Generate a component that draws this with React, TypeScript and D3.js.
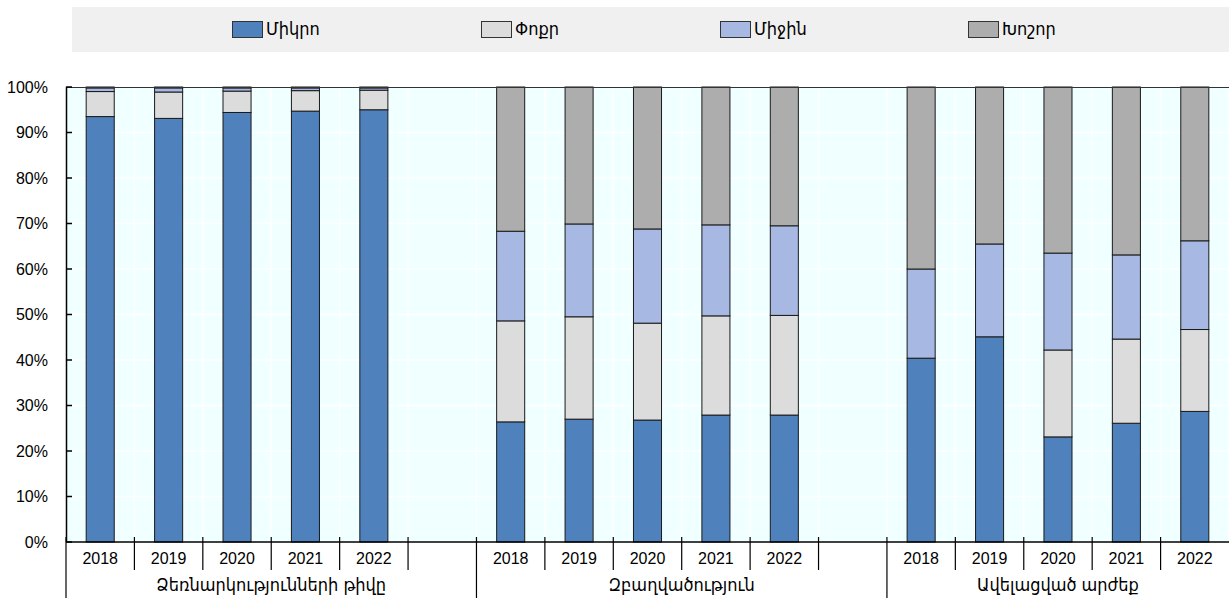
import * as d3 from "d3";

const groups = ["Ձեռնարկությունների թիվը", "Զբաղվածություն", "Ավելացված արժեք"];
const years = ["2018", "2019", "2020", "2021", "2022"];
const seriesNames = ["Միկրո", "Փոքր", "Միջին", "Խոշոր"];
const colors = ["#4F81BD", "#DCDCDC", "#A7B9E3", "#ADADAD"];

// 15 bars: 3 groups x 5 years
const mikro = [93.5, 93.1, 94.4, 94.7, 95.0, 26.4, 27.0, 26.8, 27.9, 27.9, 40.4, 45.1, 23.1, 26.1, 28.7];
const poqr = [5.5, 5.8, 4.7, 4.5, 4.3, 22.2, 22.5, 21.3, 21.8, 21.9, 0, 0, 19.1, 18.5, 18.0];
const mijin = [0.8, 0.9, 0.7, 0.6, 0.5, 19.7, 20.4, 20.7, 20.0, 19.7, 19.6, 20.4, 21.3, 18.5, 19.5];
const khoshor = [0.2, 0.2, 0.2, 0.2, 0.2, 31.7, 30.1, 31.2, 30.3, 30.5, 40.0, 34.5, 36.5, 36.9, 33.8];

const yTicks = [0, 10, 20, 30, 40, 50, 60, 70, 80, 90, 100];

const W = 1229;
const H = 598;
const FONT = "'Liberation Sans', Arial, 'DejaVu Sans Condensed', sans-serif";

export default function App() {
  const margin = { top: 87, right: 0, bottom: 56, left: 66 };
  const plotBottom = H - margin.bottom;

  // slots: each group's years followed by an empty gap slot (not after the last)
  const slots: { key: string; group: number; year?: string; idx?: number }[] = [];
  groups.forEach((g, gi) => {
    years.forEach((y, yi) => slots.push({ key: `${gi}-${y}`, group: gi, year: y, idx: gi * years.length + yi }));
    if (gi < groups.length - 1) slots.push({ key: `${gi}-gap`, group: gi });
  });

  const x = d3
    .scaleBand<string>()
    .domain(slots.map(s => s.key))
    .range([margin.left, W - margin.right])
    .padding(0);

  const y = d3.scaleLinear().domain([0, 100]).range([plotBottom, margin.top]);

  const rows = mikro.map((_, i) => ({
    i,
    [seriesNames[0]]: mikro[i],
    [seriesNames[1]]: poqr[i],
    [seriesNames[2]]: mijin[i],
    [seriesNames[3]]: khoshor[i]
  }));
  const stacked = d3.stack<any>().keys(seriesNames)(rows);

  const bw = x.bandwidth();
  const barW = bw * 0.41;

  // group boundaries (long ticks)
  const groupStart = groups.map((_, gi) => x(slots.find(s => s.group === gi)!.key)!);
  const groupEnd = groups.map((_, gi) => (gi < groups.length - 1 ? groupStart[gi + 1] : W - margin.right));

  const legendX = [232, 481, 720, 968];

  return (
    <svg
      width={W}
      height={H}
      style={{ position: "absolute", left: 0, top: 0, fontFamily: FONT }}
    >
      {/* legend */}
      <rect x={72} y={7} width={W - 72} height={45} fill="#F0F0F0" />
      {seriesNames.map((s, i) => (
        <g key={s} transform={`translate(${legendX[i]},21)`}>
          <rect x={0.5} y={0.5} width={30} height={16} fill={colors[i]} stroke="#333" strokeWidth={1} />
          <text x={34} y={14} fontSize={18} fill="#000">
            {s}
          </text>
        </g>
      ))}

      {/* plot background */}
      <rect x={margin.left} y={margin.top} width={W - margin.left} height={plotBottom - margin.top} fill="#F0FFFF" />

      {/* grid */}
      {yTicks.map(t => (
        <line key={t} x1={margin.left} x2={W} y1={y(t)} y2={y(t)} stroke="#fff" strokeWidth={1.5} />
      ))}
      {slots.map(s => (
        <line key={s.key} x1={x(s.key)! + bw} x2={x(s.key)! + bw} y1={margin.top} y2={plotBottom} stroke="#fff" strokeWidth={1.5} />
      ))}

      {/* bars */}
      {stacked.map((layer, li) => (
        <g key={layer.key} fill={colors[li]} stroke="#1a1a1a" strokeWidth={1}>
          {layer.map((d, i) => {
            const slot = slots.find(s => s.idx === i)!;
            const h = y(d[0]) - y(d[1]);
            if (h <= 0.01) return null;
            return (
              <rect
                key={i}
                x={x(slot.key)! + (bw - barW) / 2}
                y={y(d[1])}
                width={barW}
                height={h}
              />
            );
          })}
        </g>
      ))}

      {/* top frame */}
      <line x1={margin.left} x2={W} y1={margin.top + 0.5} y2={margin.top + 0.5} stroke="#333" strokeWidth={1} />

      {/* y axis */}
      <line x1={margin.left + 0.5} x2={margin.left + 0.5} y1={margin.top} y2={plotBottom} stroke="#000" strokeWidth={1.5} />
      {yTicks.map(t => (
        <g key={t}>
          <line x1={margin.left} x2={margin.left + 6} y1={y(t)} y2={y(t)} stroke="#000" strokeWidth={1.5} />
          <text x={48} y={y(t)} dy="0.36em" textAnchor="end" fontSize={16} fill="#000">
            {t}%
          </text>
        </g>
      ))}

      {/* x axis */}
      <line x1={margin.left} x2={W} y1={plotBottom} y2={plotBottom} stroke="#000" strokeWidth={1.5} />
      {slots.map((s, si) => {
        const left = x(s.key)!;
        const isGroupStart = si > 0 && slots[si - 1].group !== s.group;
        return (
          <g key={s.key}>
            {si > 0 && !isGroupStart && (
              <line x1={left} x2={left} y1={plotBottom - 5} y2={plotBottom + 28} stroke="#000" strokeWidth={1.2} />
            )}
            {s.year && (
              <text x={left + bw / 2} y={plotBottom + 22} textAnchor="middle" fontSize={16} fill="#000">
                {s.year}
              </text>
            )}
          </g>
        );
      })}
      {groups.map((g, gi) => (
        <g key={g}>
          <line x1={groupStart[gi]} x2={groupStart[gi]} y1={plotBottom - 5} y2={H} stroke="#000" strokeWidth={1.2} />
          <text x={(groupStart[gi] + groupEnd[gi]) / 2} y={plotBottom + 49} textAnchor="middle" fontSize={18} fill="#000">
            {g}
          </text>
        </g>
      ))}
    </svg>
  );
}
